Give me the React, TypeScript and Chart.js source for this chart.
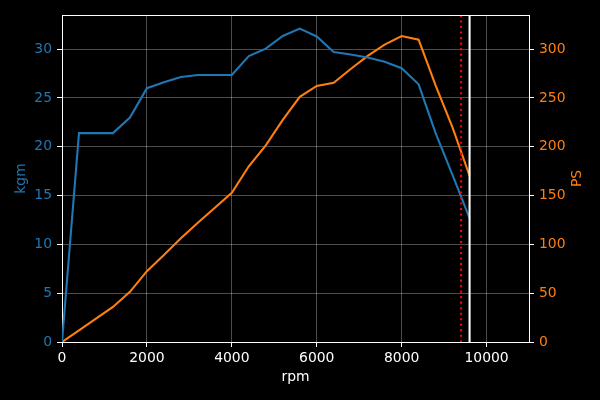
import React, { useEffect, useRef } from "react";
import { Chart, registerables } from "chart.js";

Chart.register(...registerables);

const rpm = [0, 400, 800, 1200, 1600, 2000, 2400, 2800, 3200, 3600, 4000, 4400, 4800, 5200, 5600, 6000, 6400, 6800, 7200, 7600, 8000, 8400, 8800, 9200, 9600];
const kgm = [0, 21.4, 21.4, 21.4, 23.0, 26.0, 26.6, 27.15, 27.35, 27.35, 27.35, 29.3, 30.05, 31.35, 32.1, 31.3, 29.7, 29.45, 29.15, 28.7, 28.05, 26.4, 21.4, 17.1, 12.7];
const ps = [0, 12.0, 23.9, 35.9, 51.4, 72.6, 89.2, 106.2, 122.2, 137.5, 152.8, 180.0, 201.5, 227.6, 251.1, 262.3, 265.5, 279.7, 293.1, 304.6, 313.4, 309.7, 263.0, 219.7, 170.3];

const xTicks = [0, 2000, 4000, 6000, 8000, 10000];
const kgmTicks = [0, 5, 10, 15, 20, 25, 30];
const psTicks = [0, 50, 100, 150, 200, 250, 300];

const xRange = [0, 11000];
const kgmRange = [0, 33.5];
const psRange = [0, 335];

const redlineRpm = 9400;
const limitRpm = 9600;

const BLUE = "#1f77b4";
const ORANGE = "#ff7f0e";
const FONT = "DejaVu Sans";
const FS = 13.9;
const GRID = "rgba(255,255,255,0.3)";
const LW = 2.08;

export default function App() {
  const ref = useRef<HTMLCanvasElement | null>(null);

  useEffect(() => {
    document.body.style.margin = "0";
    document.body.style.background = "#000";
    const canvas = ref.current!;

    const overlay = {
      id: "overlay",
      afterDatasetsDraw(chart: any) {
        const { ctx, chartArea, scales } = chart;
        const xs = scales.x;
        ctx.save();
        const xr = xs.getPixelForValue(redlineRpm);
        ctx.strokeStyle = "#ff0000";
        ctx.lineWidth = LW;
        ctx.setLineDash([LW, LW * 1.65]);
        ctx.beginPath();
        ctx.moveTo(xr, chartArea.top);
        ctx.lineTo(xr, chartArea.bottom);
        ctx.stroke();
        const xl = xs.getPixelForValue(limitRpm);
        ctx.setLineDash([]);
        ctx.strokeStyle = "#ffffff";
        ctx.lineWidth = LW;
        ctx.beginPath();
        ctx.moveTo(xl, chartArea.top);
        ctx.lineTo(xl, chartArea.bottom);
        ctx.stroke();
        ctx.lineWidth = 1;
        const yt = Math.round(chartArea.top) + 0.5;
        ctx.beginPath();
        ctx.moveTo(chartArea.left, yt);
        ctx.lineTo(chartArea.right, yt);
        ctx.stroke();
        ctx.restore();
      },
      afterDraw(chart: any) {
        const { ctx, chartArea } = chart;
        ctx.save();
        ctx.translate(577, (chartArea.top + chartArea.bottom) / 2);
        ctx.rotate(-Math.PI / 2);
        ctx.fillStyle = ORANGE;
        ctx.font = `${FS}px "${FONT}"`;
        ctx.textAlign = "center";
        ctx.textBaseline = "middle";
        ctx.fillText("PS", 0, 0);
        ctx.restore();
      },
    };

    const chart = new Chart(canvas, {
      type: "line",
      data: {
        datasets: [
          {
            label: "kgm",
            data: rpm.map((r, i) => ({ x: r, y: kgm[i] })),
            borderColor: BLUE,
            backgroundColor: BLUE,
            borderWidth: LW,
            pointRadius: 0,
            tension: 0,
            yAxisID: "y",
          },
          {
            label: "PS",
            data: rpm.map((r, i) => ({ x: r, y: ps[i] })),
            borderColor: ORANGE,
            backgroundColor: ORANGE,
            borderWidth: LW,
            pointRadius: 0,
            tension: 0,
            yAxisID: "y1",
          },
        ],
      },
      options: {
        animation: false,
        responsive: false,
        devicePixelRatio: 1,
        layout: { padding: { top: 15, left: 0, right: 0, bottom: 0 } },
        plugins: { legend: { display: false }, tooltip: { enabled: false } },
        font: { family: FONT, size: FS },
        scales: {
          x: {
            type: "linear",
            position: "bottom",
            min: xRange[0],
            max: xRange[1],
            afterBuildTicks: (s: any) => {
              s.ticks = xTicks.map((v) => ({ value: v }));
            },
            afterFit: (s: any) => {
              s.height = 58;
            },
            ticks: {
              color: "#ffffff",
              font: { family: FONT, size: FS },
              padding: 3,
              maxRotation: 0,
              autoSkip: false,
              callback: (v: any) => String(v),
            },
            grid: { color: GRID, lineWidth: 1, tickLength: 5, tickColor: "#ffffff", tickWidth: 1 },
            border: { color: "#ffffff", width: 1 },
            title: {
              display: true,
              text: "rpm",
              color: "#ffffff",
              font: { family: FONT, size: FS },
              padding: { top: 0, bottom: 14 },
            },
          },
          y: {
            type: "linear",
            position: "left",
            min: kgmRange[0],
            max: kgmRange[1],
            afterBuildTicks: (s: any) => {
              s.ticks = kgmTicks.map((v) => ({ value: v }));
            },
            afterFit: (s: any) => {
              s.width = 62;
            },
            ticks: {
              color: BLUE,
              font: { family: FONT, size: FS },
              padding: 5,
              autoSkip: false,
            },
            grid: { color: GRID, lineWidth: 1, tickLength: 5, tickColor: "#ffffff", tickWidth: 1 },
            border: { color: "#ffffff", width: 1 },
            title: {
              display: true,
              text: "kgm",
              color: BLUE,
              font: { family: FONT, size: FS },
              padding: { top: 13, bottom: 0 },
            },
          },
          y1: {
            type: "linear",
            position: "right",
            min: psRange[0],
            max: psRange[1],
            afterBuildTicks: (s: any) => {
              s.ticks = psTicks.map((v) => ({ value: v }));
            },
            afterFit: (s: any) => {
              s.width = 71;
            },
            ticks: {
              color: ORANGE,
              font: { family: FONT, size: FS },
              padding: 5,
              autoSkip: false,
            },
            grid: { drawOnChartArea: false, color: GRID, tickLength: 5, tickColor: "#ffffff", tickWidth: 1 },
            border: { color: "#ffffff", width: 1 },
          },
        },
      },
      plugins: [overlay],
    } as any);

    return () => chart.destroy();
  }, []);

  return (
    <div style={{ width: 600, height: 400, background: "#000" }}>
      <canvas ref={ref} width={600} height={400} style={{ display: "block" }} />
    </div>
  );
}
